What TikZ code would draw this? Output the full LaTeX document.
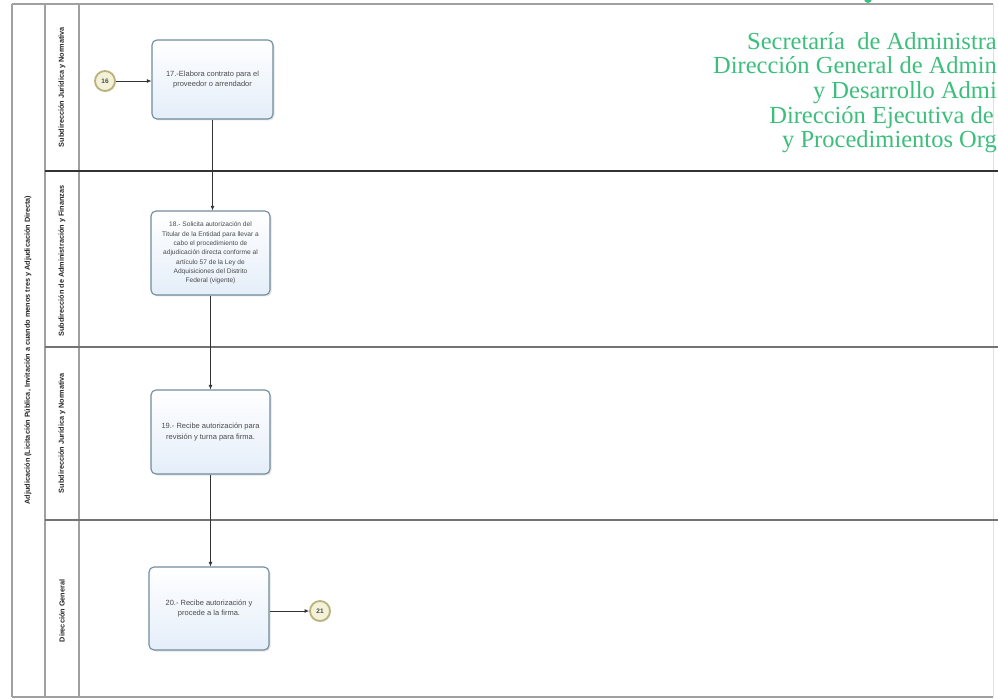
\documentclass[tikz,border=0pt]{standalone}
\usepackage{fontspec}
\setmainfont{Liberation Sans}
\newfontfamily\hdrfont{Liberation Serif}
\usetikzlibrary{arrows.meta,shadows,calc}
\definecolor{framegray}{HTML}{A0A0A0}
\definecolor{taskedge}{HTML}{6F8C9E}
\definecolor{taskfill}{HTML}{E4EEF9}
\definecolor{linkfill}{HTML}{F4F1D9}
\definecolor{linkedge}{HTML}{B9B27C}
\definecolor{hdrgreen}{HTML}{3CBF7C}
\definecolor{txtgray}{HTML}{4A4A4A}
\tikzset{
  frameline/.style={draw=framegray, line width=1.4pt},
  lanediv/.style={draw=#1, line width=1.3pt},
  lanelabel/.style={rotate=90, font=\bfseries\fontsize{7.3}{8}\selectfont, text=black!85},
  task/.style={draw=taskedge, line width=1.1pt, rounded corners=5pt,
    top color=white, bottom color=taskfill, align=center, text=txtgray,
    font=\fontsize{7.5}{10.5}\selectfont,
    drop shadow={opacity=0.22, shadow xshift=1.5pt, shadow yshift=-1.5pt}},
  smalltext/.style={font=\fontsize{6.6}{9.3}\selectfont},
  pagelink/.style={circle, draw=linkedge, line width=1.8pt, fill=linkfill,
    minimum size=20pt, inner sep=0pt, text=txtgray,
    font=\bfseries\fontsize{6.5}{7}\selectfont,
    drop shadow={opacity=0.18, shadow xshift=1pt, shadow yshift=-1pt}},
  flow/.style={draw=black!80, line width=0.8pt, -{Latex[length=4.5pt,width=4pt]}},
  hdr/.style={anchor=base east, inner sep=0pt, text=hdrgreen,
    font=\hdrfont\fontsize{24.5}{24.5}\selectfont}
}
\begin{document}
\begin{tikzpicture}[x=1pt, y=-1pt]
\useasboundingbox (0,0) rectangle (998,700);
\fill[white] (0,0) rectangle (998,700);

% pool and lane frame
\draw[draw=black!12, line width=1pt] (993,4) -- (993,697);
\draw[frameline] (12,4) -- (993,4);
\draw[frameline] (12,697) -- (993,697);
\draw[frameline] (12,4) -- (12,697);
\draw[frameline] (45,4) -- (45,697);
\draw[frameline] (79,4) -- (79,697);
\draw[lanediv=black!80] (45,171) -- (998,171);
\draw[lanediv=black!55] (45,347) -- (998,347);
\draw[lanediv=black!55] (45,520) -- (998,520);

% pool and lane titles
\node[lanelabel] (pool) at (28,350) {Adjudicación (Licitación Pública, Invitación a cuando menos tres y Adjudicación Directa)};
\node[lanelabel] (lane1) at (62,87) {Subdirección Jurídica y Normativa};
\node[lanelabel] (lane2) at (62,261) {Subdirección de Administración y Finanzas};
\node[lanelabel] (lane3) at (62,433) {Subdirección Jurídica y Normativa};
\node[lanelabel] (lane4) at (62,611) {Dirección General};

% heading, running into the right border
\begin{scope}
\clip (0,0) rectangle (998,700);
\fill[hdrgreen] (868,-1) circle (4);
\node[hdr] (h1) at (997,50) {Secretaría\ \ de Administra};
\node[hdr] (h2) at (997,74) {Dirección General de Admin};
\node[hdr] (h3) at (997,99) {y Desarrollo Admi};
\node[hdr] (h4) at (994,124) {Dirección Ejecutiva de};
\node[hdr] (h5) at (997,148) {y Procedimientos Org};
\end{scope}

% activities
\node[task, minimum width=121pt, minimum height=79pt] (t17) at (212.5,79.5)
  {17.-Elabora contrato para el\\proveedor o arrendador};
\node[task, smalltext, minimum width=119pt, minimum height=84pt] (t18) at (210.5,253)
  {18.- Solicita autorización del\\Titular de la Entidad para llevar a\\cabo el procedimiento de\\adjudicación directa conforme al\\artículo 57 de la Ley de\\Adquisiciones del Distrito\\Federal (vigente)};
\node[task, minimum width=119pt, minimum height=84pt] (t19) at (210.5,432)
  {19.- Recibe autorización para\\revisión y turna para firma.};
\node[task, minimum width=120pt, minimum height=83pt] (t20) at (209,608.5)
  {20.- Recibe autorización y\\procede a la firma.};

% off-page connectors
\node[pagelink] (c16) at (105,81) {16};
\node[pagelink] (c21) at (320,611) {21};

% sequence flow
\draw[flow] (c16) -- (c16 -| t17.west);
\draw[flow] (t17.south) -- (t17.south |- t18.north);
\draw[flow] (t18.south) -- (t18.south |- t19.north);
\draw[flow] (t19.south) -- (t19.south |- t20.north);
\draw[flow] (t20.east |- c21) -- (c21.west);
\end{tikzpicture}
\end{document}
